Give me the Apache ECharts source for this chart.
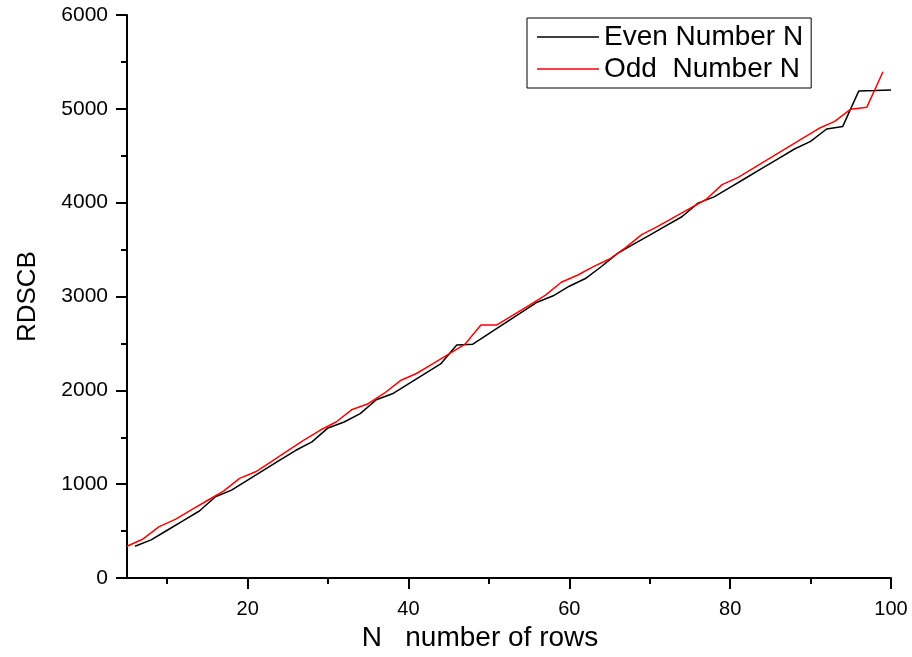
<!DOCTYPE html>
<html>
<head>
<meta charset="utf-8">
<script src="https://cdn.jsdelivr.net/npm/echarts@6/dist/echarts.min.js"></script>
<style>
  html, body { margin: 0; padding: 0; background: #fff; }
  #chart { width: 912px; height: 657px; }
</style>
</head>
<body>
<div id="chart"></div>
<script>
// 偶数 N
const evenN = [6, 8, 10, 12, 14, 16, 18, 20, 22, 24, 26, 28, 30, 32, 34, 36, 38, 40, 42, 44, 46, 48, 50, 52,
  54, 56, 58, 60, 62, 64, 66, 68, 70, 72, 74, 76, 78, 80, 82, 84, 86, 88, 90, 92, 94, 96, 98, 100];
const evenVals = [340, 407, 510, 612, 715, 867, 937, 1043, 1150, 1256, 1362, 1451, 1600, 1663, 1752, 1900,
  1964, 2070, 2176, 2282, 2484, 2493, 2605, 2716, 2828, 2940, 3008, 3110, 3192, 3320, 3460, 3558, 3655,
  3753, 3850, 3995, 4062, 4164, 4266, 4368, 4470, 4572, 4653, 4785, 4813, 5191, 5196, 5202];
// 奇数 N
const oddN = [5, 7, 9, 11, 13, 15, 17, 19, 21, 23, 25, 27, 29, 31, 33, 35, 37, 39, 41, 43, 45, 47, 49, 51,
  53, 55, 57, 59, 61, 63, 65, 67, 69, 71, 73, 75, 77, 79, 81, 83, 85, 87, 89, 91, 93, 95, 97, 99];
const oddVals = [340, 417, 549, 626, 727, 827, 927, 1062, 1133, 1245, 1357, 1469, 1575, 1663, 1797, 1858,
  1970, 2105, 2180, 2283, 2387, 2490, 2696, 2698, 2803, 2907, 3012, 3152, 3227, 3319, 3400, 3521, 3660,
  3748, 3843, 3939, 4034, 4193, 4270, 4374, 4478, 4582, 4686, 4790, 4866, 4997, 5018, 5396];
const xMajor = [20, 40, 60, 80, 100];
const xMinor = [10, 30, 50, 70, 90];

const font = "'Liberation Sans', Arial, sans-serif";
const chart = echarts.init(document.getElementById("chart"));
const option = {
  backgroundColor: "#fff",
  animation: false,
  grid: { left: 127, right: 21, top: 15, bottom: 74, containLabel: false },
  legend: {
    left: 527,
    top: 18,
    orient: "vertical",
    icon: "rect",
    itemWidth: 62,
    itemHeight: 1.5,
    itemGap: 4,
    itemTextGap: 6,
    padding: [5, 8, 5, 10],
    borderColor: "#000",
    borderWidth: 1,
    textStyle: { fontFamily: font, fontSize: 28, color: "#000" },
    data: ["Even Number N", "Odd  Number N"],
  },
  xAxis: [
    {
      type: "value",
      min: 5,
      max: 100,
      name: "N   number of rows",
      nameLocation: "middle",
      nameGap: 45,
      nameTextStyle: { fontFamily: font, fontSize: 28, color: "#000", padding: [0, 58, 0, 0] },
      axisLine: { lineStyle: { color: "#000", width: 2 } },
      axisTick: { length: 11, customValues: xMajor, lineStyle: { color: "#000", width: 2 } },
      axisLabel: { customValues: xMajor, fontFamily: font, fontSize: 20, color: "#000", margin: 21 },
      splitLine: { show: false },
    },
    {
      type: "value",
      min: 5,
      max: 100,
      position: "bottom",
      axisLine: { show: false },
      axisTick: { length: 6, customValues: xMinor, lineStyle: { color: "#000", width: 2 } },
      axisLabel: { show: false },
      splitLine: { show: false },
    },
  ],
  yAxis: {
    type: "value",
    min: 0,
    max: 6000,
    interval: 1000,
    name: "RDSCB",
    nameLocation: "middle",
    nameGap: 86,
    nameTextStyle: { fontFamily: font, fontSize: 26, color: "#000" },
    axisLine: { show: true, lineStyle: { color: "#000", width: 2 } },
    axisTick: { show: true, length: 11, lineStyle: { color: "#000", width: 2 } },
    minorTick: { show: true, splitNumber: 2, length: 6, lineStyle: { color: "#000", width: 2 } },
    axisLabel: { fontFamily: font, fontSize: 21, color: "#000", margin: 19, formatter: (v) => String(v) },
    splitLine: { show: false },
    minorSplitLine: { show: false },
  },
  series: [
    {
      name: "Even Number N",
      type: "line",
      symbol: "none",
      color: "#000",
      lineStyle: { width: 1.5, color: "#000" },
      data: evenN.map((n, i) => [n, evenVals[i]]),
    },
    {
      name: "Odd  Number N",
      type: "line",
      symbol: "none",
      color: "#ff0000",
      lineStyle: { width: 1.5, color: "#ff0000" },
      data: oddN.map((n, i) => [n, oddVals[i]]),
    },
  ],
};
chart.setOption(option);
</script>
</body>
</html>
